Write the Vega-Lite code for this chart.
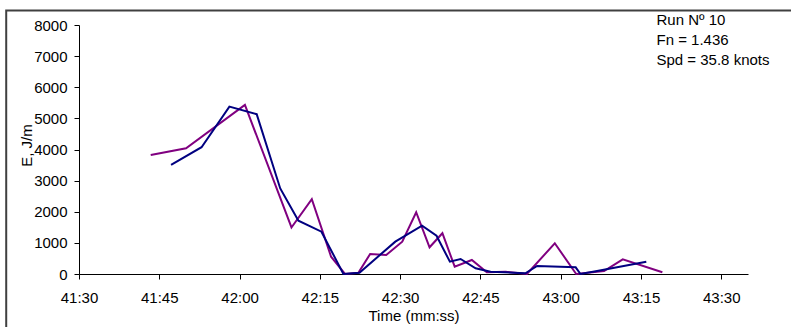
{
  "$schema": "https://vega.github.io/schema/vega-lite/v6.json",
  "width": 669,
  "height": 249,
  "autosize": {"type": "none"},
  "padding": {"left": 79, "top": 25, "right": 43, "bottom": 53},
  "background": "white",
  "config": {
    "view": {"stroke": null},
    "font": "Liberation Sans",
    "axis": {
      "grid": false,
      "domainColor": "#000000",
      "tickColor": "#000000",
      "labelColor": "#000000",
      "titleColor": "#000000",
      "labelFont": "Liberation Sans",
      "titleFont": "Liberation Sans",
      "labelFontSize": 15,
      "titleFontSize": 15,
      "titleFontWeight": "normal",
      "tickSize": 5,
      "labelFlush": false,
      "labelOverlap": false,
      "titleBaseline": "alphabetic"
    },
    "axisX": {
      "labelPadding": 11,
      "titleY": 46.5
    },
    "axisY": {
      "labelPadding": 7,
      "titleX": -48,
      "titleY": 120
    }
  },
  "datasets": {
    "series": [
      {"series": "A", "t": 2503.4, "E": 3826},
      {"series": "A", "t": 2510.0, "E": 4042},
      {"series": "A", "t": 2521.0, "E": 5434},
      {"series": "A", "t": 2529.7, "E": 1495},
      {"series": "A", "t": 2533.5, "E": 2402},
      {"series": "A", "t": 2537.1, "E": 556},
      {"series": "A", "t": 2539.7, "E": 0},
      {"series": "A", "t": 2542.2, "E": 40},
      {"series": "A", "t": 2544.4, "E": 643},
      {"series": "A", "t": 2547.4, "E": 611},
      {"series": "A", "t": 2550.4, "E": 1039},
      {"series": "A", "t": 2553.0, "E": 1984},
      {"series": "A", "t": 2555.5, "E": 858},
      {"series": "A", "t": 2557.9, "E": 1309},
      {"series": "A", "t": 2560.2, "E": 235},
      {"series": "A", "t": 2563.4, "E": 450},
      {"series": "A", "t": 2566.2, "E": 55},
      {"series": "A", "t": 2569.7, "E": 74},
      {"series": "A", "t": 2573.7, "E": 0},
      {"series": "A", "t": 2578.9, "E": 987},
      {"series": "A", "t": 2582.9, "E": 0},
      {"series": "A", "t": 2588.1, "E": 96},
      {"series": "A", "t": 2591.6, "E": 473},
      {"series": "A", "t": 2599.0, "E": 55},
      {"series": "B", "t": 2507.2, "E": 3505},
      {"series": "B", "t": 2512.9, "E": 4074},
      {"series": "B", "t": 2518.1, "E": 5379},
      {"series": "B", "t": 2523.2, "E": 5135},
      {"series": "B", "t": 2527.6, "E": 2749},
      {"series": "B", "t": 2531.0, "E": 1714},
      {"series": "B", "t": 2535.3, "E": 1360},
      {"series": "B", "t": 2539.4, "E": 0},
      {"series": "B", "t": 2542.4, "E": 42},
      {"series": "B", "t": 2549.1, "E": 1039},
      {"series": "B", "t": 2554.1, "E": 1553},
      {"series": "B", "t": 2556.8, "E": 1231},
      {"series": "B", "t": 2559.3, "E": 395},
      {"series": "B", "t": 2561.3, "E": 482},
      {"series": "B", "t": 2564.1, "E": 183},
      {"series": "B", "t": 2566.9, "E": 74},
      {"series": "B", "t": 2573.4, "E": 22},
      {"series": "B", "t": 2575.6, "E": 257},
      {"series": "B", "t": 2582.8, "E": 215},
      {"series": "B", "t": 2583.7, "E": 0},
      {"series": "B", "t": 2586.8, "E": 96},
      {"series": "B", "t": 2596.0, "E": 395}
    ]
  },
  "layer": [
    {
      "data": {"name": "series"},
      "mark": {"type": "line", "strokeWidth": 2, "clip": false},
      "encoding": {
        "x": {
          "field": "t",
          "type": "quantitative",
          "scale": {"domain": [2490, 2615], "nice": false, "zero": false},
          "axis": {
            "title": "Time (mm:ss)",
            "values": [2490, 2505, 2520, 2535, 2550, 2565, 2580, 2595, 2610],
            "labelExpr": "floor(datum.value/60) + ':' + (datum.value % 60 < 10 ? '0' : '') + (datum.value % 60)"
          }
        },
        "y": {
          "field": "E",
          "type": "quantitative",
          "scale": {"domain": [0, 8000], "nice": false},
          "axis": {
            "title": "E, J/m",
            "values": [0, 1000, 2000, 3000, 4000, 5000, 6000, 7000, 8000],
            "format": "d"
          }
        },
        "color": {
          "field": "series",
          "type": "nominal",
          "scale": {"domain": ["A", "B"], "range": ["#800080", "#000080"]},
          "legend": null
        },
        "order": {"field": "t", "type": "quantitative"}
      }
    },
    {
      "data": {"values": [{}]},
      "mark": {
        "type": "text",
        "align": "left",
        "baseline": "top",
        "fontSize": 15,
        "lineHeight": 20,
        "font": "Liberation Sans",
        "color": "#000000",
        "clip": false
      },
      "encoding": {
        "x": {
          "datum": 2597.9,
          "type": "quantitative",
          "axis": {
            "title": "Time (mm:ss)",
            "values": [2490, 2505, 2520, 2535, 2550, 2565, 2580, 2595, 2610],
            "labelExpr": "floor(datum.value/60) + ':' + (datum.value % 60 < 10 ? '0' : '') + (datum.value % 60)"
          }
        },
        "y": {
          "datum": 8400,
          "type": "quantitative",
          "axis": {
            "title": "E, J/m",
            "values": [0, 1000, 2000, 3000, 4000, 5000, 6000, 7000, 8000],
            "format": "d"
          }
        },
        "text": {"value": ["Run Nº 10", "Fn = 1.436", "Spd = 35.8 knots"]}
      }
    },
    {
      "data": {"values": [{}]},
      "mark": {
        "type": "rect",
        "fill": null,
        "fillOpacity": 0,
        "stroke": "#404040",
        "strokeWidth": 2,
        "clip": false
      },
      "encoding": {
        "x": {
          "datum": 2476.4,
          "type": "quantitative",
          "axis": {
            "title": "Time (mm:ss)",
            "values": [2490, 2505, 2520, 2535, 2550, 2565, 2580, 2595, 2610],
            "labelExpr": "floor(datum.value/60) + ':' + (datum.value % 60 < 10 ? '0' : '') + (datum.value % 60)"
          }
        },
        "x2": {"datum": 2700},
        "y": {
          "datum": 8466,
          "type": "quantitative",
          "axis": {
            "title": "E, J/m",
            "values": [0, 1000, 2000, 3000, 4000, 5000, 6000, 7000, 8000],
            "format": "d"
          }
        },
        "y2": {"datum": -3000}
      }
    }
  ]
}
